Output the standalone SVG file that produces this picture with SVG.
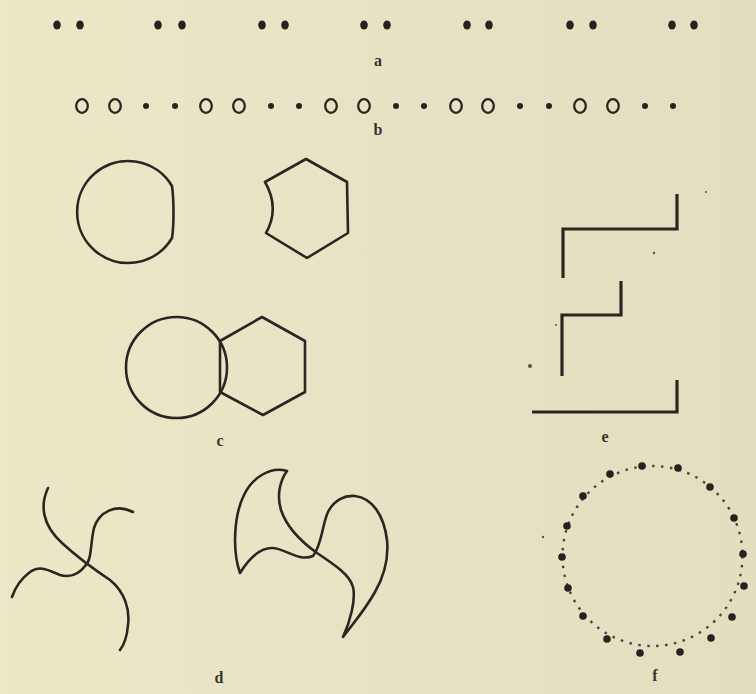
<svg xmlns="http://www.w3.org/2000/svg" width="756" height="694" viewBox="0 0 756 694">
<defs>
<linearGradient id="bg" x1="0" y1="0" x2="1" y2="0">
<stop offset="0" stop-color="#ebe8c8"/>
<stop offset="1" stop-color="#e2dec0"/>
</linearGradient>
</defs>
<style>
.ln{fill:none;stroke:#2b2621;stroke-width:2.6;stroke-linecap:round;stroke-linejoin:round}
.th{fill:none;stroke:#2b2621;stroke-width:3.2;stroke-linecap:butt;stroke-linejoin:miter}
.dot{fill:#262220}
.ring{fill:none;stroke:#2b2621;stroke-width:2.3}
.lbl{font-family:"Liberation Serif",serif;font-weight:bold;font-size:16px;fill:#3a3530;text-anchor:middle}
.speck{fill:#555048}
</style>
<rect width="756" height="694" fill="url(#bg)"/>

<g id="a">
<ellipse class="dot" cx="57" cy="25" rx="3.8" ry="4.6"/><ellipse class="dot" cx="80" cy="25" rx="3.8" ry="4.6"/>
<ellipse class="dot" cx="158" cy="25" rx="3.8" ry="4.6"/><ellipse class="dot" cx="182" cy="25" rx="3.8" ry="4.6"/>
<ellipse class="dot" cx="262" cy="25" rx="3.8" ry="4.6"/><ellipse class="dot" cx="285" cy="25" rx="3.8" ry="4.6"/>
<ellipse class="dot" cx="364" cy="25" rx="3.8" ry="4.6"/><ellipse class="dot" cx="387" cy="25" rx="3.8" ry="4.6"/>
<ellipse class="dot" cx="467" cy="25" rx="3.8" ry="4.6"/><ellipse class="dot" cx="489" cy="25" rx="3.8" ry="4.6"/>
<ellipse class="dot" cx="570" cy="25" rx="3.8" ry="4.6"/><ellipse class="dot" cx="593" cy="25" rx="3.8" ry="4.6"/>
<ellipse class="dot" cx="672" cy="25" rx="3.8" ry="4.6"/><ellipse class="dot" cx="694" cy="25" rx="3.8" ry="4.6"/>
<text class="lbl" x="378" y="66">a</text>
</g>

<g id="b">
<ellipse class="ring" cx="82" cy="106" rx="5.8" ry="6.8"/><ellipse class="ring" cx="115" cy="106" rx="5.8" ry="6.8"/>
<circle class="dot" cx="146" cy="106" r="3"/><circle class="dot" cx="175" cy="106" r="3"/>
<ellipse class="ring" cx="206" cy="106" rx="5.8" ry="6.8"/><ellipse class="ring" cx="239" cy="106" rx="5.8" ry="6.8"/>
<circle class="dot" cx="271" cy="106" r="3"/><circle class="dot" cx="299" cy="106" r="3"/>
<ellipse class="ring" cx="331" cy="106" rx="5.8" ry="6.8"/><ellipse class="ring" cx="364" cy="106" rx="5.8" ry="6.8"/>
<circle class="dot" cx="396" cy="106" r="3"/><circle class="dot" cx="424" cy="106" r="3"/>
<ellipse class="ring" cx="456" cy="106" rx="5.8" ry="6.8"/><ellipse class="ring" cx="488" cy="106" rx="5.8" ry="6.8"/>
<circle class="dot" cx="520" cy="106" r="3"/><circle class="dot" cx="549" cy="106" r="3"/>
<ellipse class="ring" cx="580" cy="106" rx="5.8" ry="6.8"/><ellipse class="ring" cx="613" cy="106" rx="5.8" ry="6.8"/>
<circle class="dot" cx="645" cy="106" r="3"/><circle class="dot" cx="673" cy="106" r="3"/>
<text class="lbl" x="378" y="135">b</text>
</g>

<g id="c">
<path class="ln" d="M172,186 A51 51 0 1 0 172,238 C174,225 174,200 172,186 Z"/>
<path class="ln" d="M306,159 L347,182 L348,233 L307,258 L266,233 Q280,208 265,182 Z"/>
<path class="ln" d="M262,317 L305,341 L305,392 L263,415 L220,392 L220,341 Z"/>
<circle class="ln" cx="176.5" cy="367.5" r="50.5"/>
<text class="lbl" x="220" y="446">c</text>
</g>

<g id="d">
<path class="ln" d="M48,488 C40,505 42,525 62,543 C75,555 95,570 110,580 C125,592 130,610 128,625 C127,637 124,645 120,650"/>
<path class="ln" d="M133,512 C116,503 99,512 94,528 C90,545 92,560 85,566 C79,574 70,578 60,575 C48,570 40,565 30,572 C22,578 15,588 12,597"/>
<path class="ln" d="M287,471 C270,466 252,478 244,495 C234,515 232,550 240,573 C248,560 258,548 272,548 C285,548 298,562 313,556 C322,545 322,525 328,512 C334,500 345,495 355,496 C372,498 384,515 387,540 C389,560 383,578 375,592 C365,610 352,625 343,637 C350,622 356,600 353,587 C350,575 335,565 317,553 C303,543 287,528 281,510 C277,497 279,482 287,471 Z"/>
<text class="lbl" x="219" y="683">d</text>
</g>

<g id="e">
<path class="th" d="M677,194 V229 H563 V278"/>
<path class="th" d="M621,281 V315 H562 V376"/>
<path class="th" d="M532,412 H677 V380"/>
<circle class="speck" cx="706" cy="192" r="1"/>
<circle class="speck" cx="654" cy="253" r="1.2"/>
<circle class="speck" cx="556" cy="325" r="1"/>
<circle class="speck" cx="530" cy="366" r="2"/>
<text class="lbl" x="605" y="442">e</text>
</g>

<g id="f">
<circle cx="652.5" cy="556" r="90" fill="none" stroke="#4a4540" stroke-width="2.4" stroke-dasharray="2.5 6.5"/>
<circle class="dot" cx="642" cy="466" r="3.8"/>
<circle class="dot" cx="678" cy="468" r="3.8"/>
<circle class="dot" cx="610" cy="474" r="3.8"/>
<circle class="dot" cx="710" cy="487" r="3.8"/>
<circle class="dot" cx="583" cy="496" r="3.8"/>
<circle class="dot" cx="734" cy="518" r="3.8"/>
<circle class="dot" cx="567" cy="526" r="3.8"/>
<circle class="dot" cx="743" cy="554" r="3.8"/>
<circle class="dot" cx="562" cy="557" r="3.8"/>
<circle class="dot" cx="744" cy="586" r="3.8"/>
<circle class="dot" cx="568" cy="588" r="3.8"/>
<circle class="dot" cx="732" cy="617" r="3.8"/>
<circle class="dot" cx="583" cy="616" r="3.8"/>
<circle class="dot" cx="711" cy="638" r="3.8"/>
<circle class="dot" cx="607" cy="639" r="3.8"/>
<circle class="dot" cx="680" cy="652" r="3.8"/>
<circle class="dot" cx="640" cy="653" r="3.8"/>
<circle class="speck" cx="543" cy="537" r="1.2"/>
<text class="lbl" x="655" y="681">f</text>
</g>
</svg>
